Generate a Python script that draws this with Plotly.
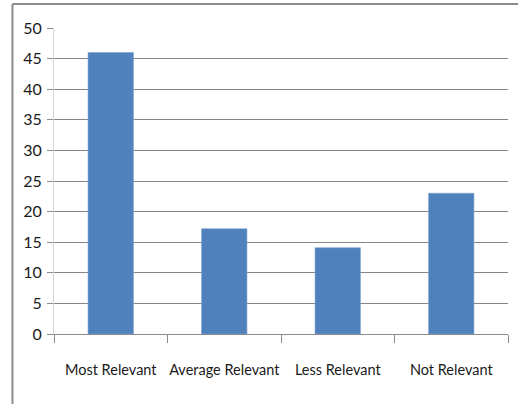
import plotly.graph_objects as go

categories = ["Most Relevant", "Average Relevant", "Less Relevant", "Not Relevant"]
values = [46, 17.2, 14.1, 23]
y_ticks = [0, 5, 10, 15, 20, 25, 30, 35, 40, 45, 50]

FONT = "Lato, Liberation Sans Narrow, sans-serif"

fig = go.Figure(
    go.Bar(
        x=categories,
        y=values,
        width=0.4,
        marker=dict(color="#4F81BD", line=dict(color="#7FA3D0", width=0.6)),
    )
)

fig.update_layout(
    width=518,
    height=404,
    margin=dict(l=54, r=10, t=28, b=70),
    paper_bgcolor="white",
    plot_bgcolor="white",
    showlegend=False,
    font=dict(family=FONT, size=15, color="#1a1a1a"),
    shapes=[
        # frame around the chart area (left and top edges)
        dict(type="line", xref="paper", yref="paper", x0=-0.0915, x1=1.03, y0=1.0785, y1=1.0785,
             line=dict(color="#8c8c8c", width=2)),
        dict(type="line", xref="paper", yref="paper", x0=-0.0915, x1=-0.0915, y0=1.0785, y1=-0.24,
             line=dict(color="#8c8c8c", width=2)),
    ],
)

fig.update_xaxes(
    type="category",
    range=[-0.5, 3.5],
    tickson="boundaries",
    ticks="outside",
    ticklen=8,
    tickcolor="#8c8c8c",
    tickangle=0,
    automargin=False,
    showline=True,
    linecolor="#8c8c8c",
    linewidth=1,
    showgrid=False,
    tickfont=dict(family=FONT, size=14.5),
    ticklabelstandoff=23,
    fixedrange=True,
)

fig.update_yaxes(
    range=[0, 50],
    tickvals=y_ticks,
    ticks="outside",
    ticklen=6,
    tickcolor="#8c8c8c",
    automargin=False,
    showline=True,
    linecolor="#d4d4d4",
    linewidth=1,
    showgrid=True,
    gridcolor="#868686",
    gridwidth=1,
    zeroline=False,
    tickfont=dict(family=FONT, size=16),
    ticklabelstandoff=2,
    fixedrange=True,
)

fig.write_html("out.html")
